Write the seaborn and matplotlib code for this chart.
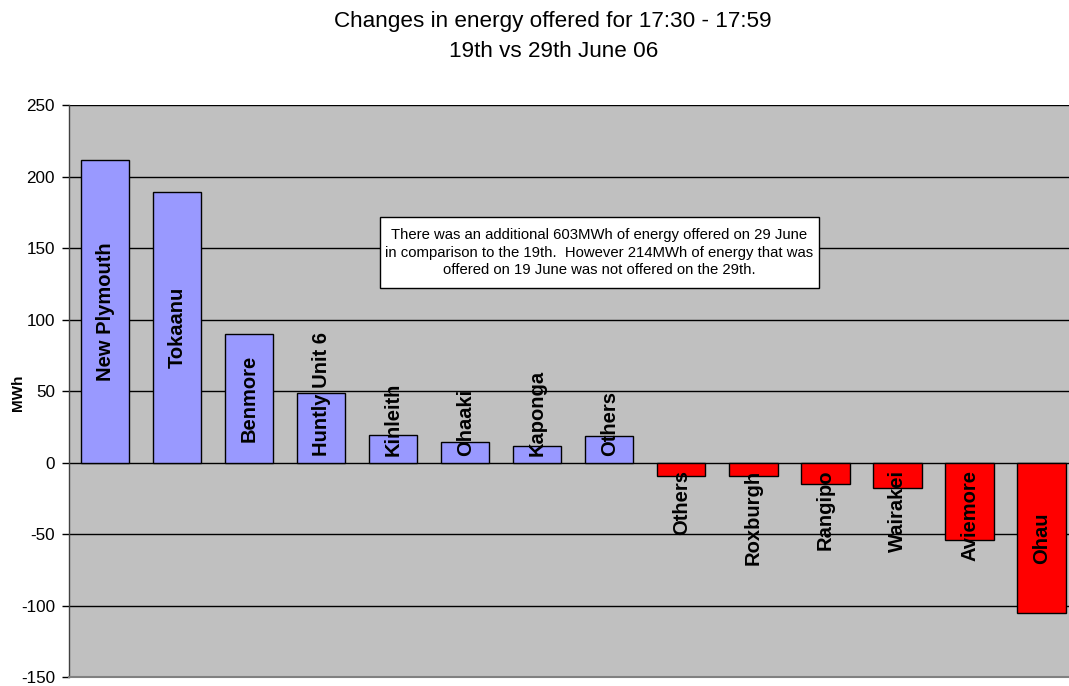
import matplotlib
matplotlib.use("Agg")
import matplotlib.pyplot as plt
import seaborn as sns
import pandas as pd
from matplotlib.patches import Rectangle

# ---- data ----
stations = ["New Plymouth", "Tokaanu", "Benmore", "Huntly Unit 6", "Kinleith",
            "Ohaaki", "Kaponga", "Others", "Others", "Roxburgh", "Rangipo",
            "Wairakei", "Aviemore", "Ohau"]
changes = [211.5, 189.5, 90.0, 48.5, 19.5, 14.3, 12.0, 18.7,
           -9.5, -9.5, -14.6, -17.4, -54.3, -105.2]
yticks = [-150, -100, -50, 0, 50, 100, 150, 200, 250]
title1 = "Changes in energy offered for 17:30 - 17:59"
title2 = "19th vs 29th June 06"
note = ("There was an additional 603MWh of energy offered on 29 June\n"
        "in comparison to the 19th.  However 214MWh of energy that was\n"
        "offered on 19 June was not offered on the 29th.")
ylabel = "MWh"

pos_color = "#9999FF"
neg_color = "#FF0000"

ids = [f"{i}_{s}" for i, s in enumerate(stations)]
df = pd.DataFrame({"id": ids, "station": stations, "change": changes})
palette = {k: (pos_color if v >= 0 else neg_color) for k, v in zip(ids, changes)}

sns.set_style("white")
plt.rcParams["font.family"] = ["Liberation Sans", "DejaVu Sans"]

W, H = 1069, 686
fig = plt.figure(figsize=(W / 100, H / 100), dpi=100)
fig.patch.set_facecolor("white")

left_px, right_px, top_px, bot_px = 69.0, 1077.6, 105.2, 677.2
ax = fig.add_axes([left_px / W, 1 - bot_px / H, (right_px - left_px) / W, (bot_px - top_px) / H])
ax.set_facecolor("#C0C0C0")

sns.barplot(data=df, x="id", y="change", hue="id", palette=palette, order=ids,
            legend=False, width=0.67, saturation=1, edgecolor="black",
            linewidth=1.0, ax=ax, zorder=3)

ax.set_xlim(-0.5, len(ids) - 0.5)
ax.set_ylim(-150, 250)
ax.set_yticks(yticks)
ax.set_yticklabels([str(t) for t in yticks], fontsize=12.3, color="black")
ax.tick_params(axis="y", direction="out", length=5, width=1, color="black", pad=5, left=True)
ax.tick_params(axis="x", bottom=False, labelbottom=False)
ax.set_xlabel("")
ax.set_ylabel("")
ax.yaxis.grid(True, color="black", linewidth=1.0, zorder=1)
ax.set_axisbelow(True)
for s in ["top", "right"]:
    ax.spines[s].set_visible(False)
ax.spines["left"].set_color("#404040")
ax.spines["left"].set_linewidth(1.0)
ax.spines["bottom"].set_color("#808080")
ax.spines["bottom"].set_linewidth(1.5)

# bar labels: centered in bar, or starting from the baseline if too long
fig.canvas.draw()
renderer = fig.canvas.get_renderer()
ppu = ax.bbox.height / 400.0
gap = 7.0 / ppu
for i, (name, v) in enumerate(zip(stations, changes)):
    t = ax.text(i, 0, name, rotation=90, ha="center", va="center",
                fontsize=14.5, fontweight="bold", color="black", zorder=5)
    L = t.get_window_extent(renderer).height / ppu
    if L <= abs(v):
        y = v / 2
    else:
        y = (gap + L / 2) if v >= 0 else -(gap + L / 2)
    t.set_y(y)

# titles
fig.text(553 / W, 1 - 27 / H, title1, ha="center", va="baseline", fontsize=16.2, color="black")
fig.text(554 / W, 1 - 57 / H, title2, ha="center", va="baseline", fontsize=16.2, color="black")

# y label
fig.text(18 / W, 1 - 392.5 / H, ylabel, rotation=90, ha="center", va="center",
         fontsize=11, fontweight="bold", color="black")

# note box
bx0, by0, bx1, by1 = 380, 217, 819, 288
fig.patches.append(Rectangle((bx0 / W, 1 - by1 / H), (bx1 - bx0) / W, (by1 - by0) / H,
                             transform=fig.transFigure, facecolor="white",
                             edgecolor="black", linewidth=1.0, zorder=10))
fig.text((bx0 + bx1) / 2 / W, 1 - 252.5 / H, note, ha="center", va="center",
         fontsize=10.7, linespacing=1.34, color="black", zorder=11)

fig.savefig("out.png", dpi=100, facecolor="white")
